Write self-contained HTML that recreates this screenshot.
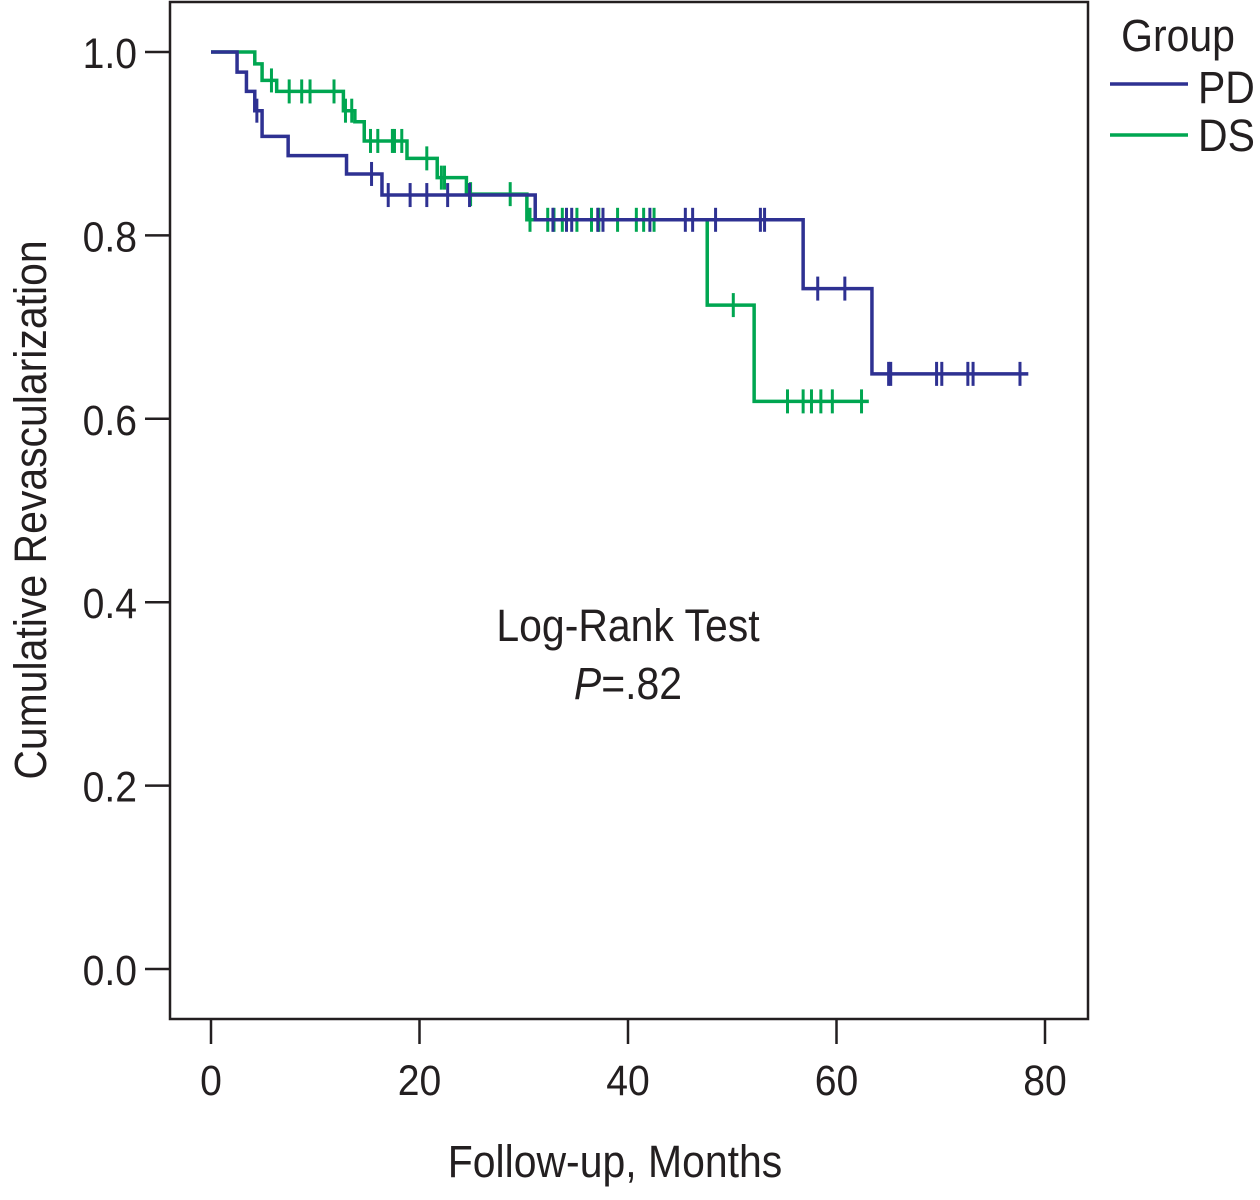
<!DOCTYPE html>
<html><head><meta charset="utf-8"><style>
html,body{margin:0;padding:0;background:#fff;}
svg text{font-family:"Liberation Sans Narrow","Liberation Sans",sans-serif;fill:#231f20;}
</style></head><body>
<svg id="chart" width="1260" height="1195" viewBox="0 0 1260 1195" xmlns="http://www.w3.org/2000/svg">
<rect x="170" y="2" width="918" height="1017" fill="none" stroke="#231f20" stroke-width="2.5"/>
<g id="axes"></g>
<g id="series"></g>
<text transform="translate(46,510) rotate(-90) scale(0.91,1)" text-anchor="middle" font-size="45">Cumulative Revascularization</text>
<text class="sc" x="615" y="1177" text-anchor="middle" font-size="45">Follow-up, Months</text>
<text class="sc" x="628" y="641" text-anchor="middle" font-size="45">Log-Rank Test</text>
<text class="sc" x="628" y="699" text-anchor="middle" font-size="45"><tspan font-style="italic">P</tspan>=.82</text>
<g>
<text class="sc" x="1178" y="51" text-anchor="middle" font-size="45">Group</text>
<line x1="1110" y1="84" x2="1188" y2="84" stroke="#2e3192" stroke-width="3.5"/>
<text class="sc" x="1198" y="103" font-size="45">PD</text>
<line x1="1110" y1="135" x2="1188" y2="135" stroke="#00a651" stroke-width="3.5"/>
<text class="sc" x="1198" y="151" font-size="45">DS</text>
</g>
</svg>
<script>
const xTicks=[0,20,40,60,80];
const yTicks=[0,0.2,0.4,0.6,0.8,1.0];
const yTickLabels=["0.0","0.2","0.4","0.6","0.8","1.0"];
const pdTimes=[0,2.5,3.4,4.2,4.9,7.4,13,16.4,31.1,56.8,63.4];
const pdSurv=[1,0.978,0.957,0.936,0.908,0.887,0.867,0.844,0.817,0.742,0.649];
const pdEnd=78.4;
const pdCensor=[4.4,15.4,17.0,19.1,20.7,22.7,24.8,32.8,34.1,34.6,37.1,37.6,42.1,45.5,46.2,48.4,52.7,53.1,58.2,60.8,65.0,65.2,69.6,70.1,72.6,73.1,77.6];
const dsTimes=[0,4.2,4.9,6.3,12.7,13.8,14.7,18.8,21.7,24.5,30.3,47.6,52.1];
const dsSurv=[1,0.987,0.969,0.957,0.936,0.924,0.903,0.884,0.863,0.845,0.817,0.724,0.619];
const dsEnd=63.1;
const dsCensor=[5.8,7.5,8.7,9.5,11.8,12.9,13.5,15.3,16.0,17.4,17.6,18.3,20.7,22.1,22.4,24.9,28.7,30.6,32.3,32.9,33.7,35.1,36.5,37.2,39.0,40.8,41.5,42.5,50.1,55.3,56.8,57.6,58.5,59.6,62.4];

const NS="http://www.w3.org/2000/svg";
const X=m=>211+m*10.425;
const Y=s=>969-s*917;
function mk(tag,attrs,parent){const e=document.createElementNS(NS,tag);for(const k in attrs)e.setAttribute(k,attrs[k]);parent.appendChild(e);return e;}
const axes=document.getElementById('axes');
xTicks.forEach(t=>{
  const l=mk('line',{x1:X(t),x2:X(t),y1:1019,y2:1044,stroke:'#231f20','stroke-width':2.5},axes);
  
  
  const tx=mk('text',{x:X(t),y:1095,'text-anchor':'middle','font-size':43,'class':'sc'},axes);
  tx.textContent=t;
  
  
});
yTicks.forEach((t,i)=>{
  const l=mk('line',{x1:145,x2:170,y1:Y(t),y2:Y(t),stroke:'#231f20','stroke-width':2.5},axes);
  
  
  const tx=mk('text',{x:137,y:Y(t)+16,'text-anchor':'end','font-size':43,'class':'sc'},axes);
  tx.textContent=yTickLabels[i];
  
  
});
function survAt(times,surv,t){let s=surv[0];for(let i=0;i<times.length;i++){if(times[i]<=t)s=surv[i];}return s;}
const series=document.getElementById('series');
function draw(times,surv,end,cens,color,name){
  let d='M'+X(times[0])+','+Y(surv[0]);
  for(let i=1;i<times.length;i++){d+=' H'+X(times[i])+' V'+Y(surv[i]);}
  d+=' H'+X(end);
  const p=mk('path',{d:d,fill:'none',stroke:color,'stroke-width':3.5},series);
  
  
  cens.forEach(c=>{
    const y=Y(survAt(times,surv,c));
    const l=mk('line',{x1:X(c),x2:X(c),y1:y-12,y2:y+12,stroke:color,'stroke-width':3},series);
    
    
  });
}
draw(dsTimes,dsSurv,dsEnd,dsCensor,'#00a651','ds');
draw(pdTimes,pdSurv,pdEnd,pdCensor,'#2e3192','pd');
document.querySelectorAll('text.sc').forEach(t=>{
  const x=t.getAttribute('x'),y=t.getAttribute('y');
  t.setAttribute('x',0);t.setAttribute('y',0);
  t.setAttribute('transform','translate('+x+','+y+') scale(0.91,1)');
});
</script>
</body></html>
